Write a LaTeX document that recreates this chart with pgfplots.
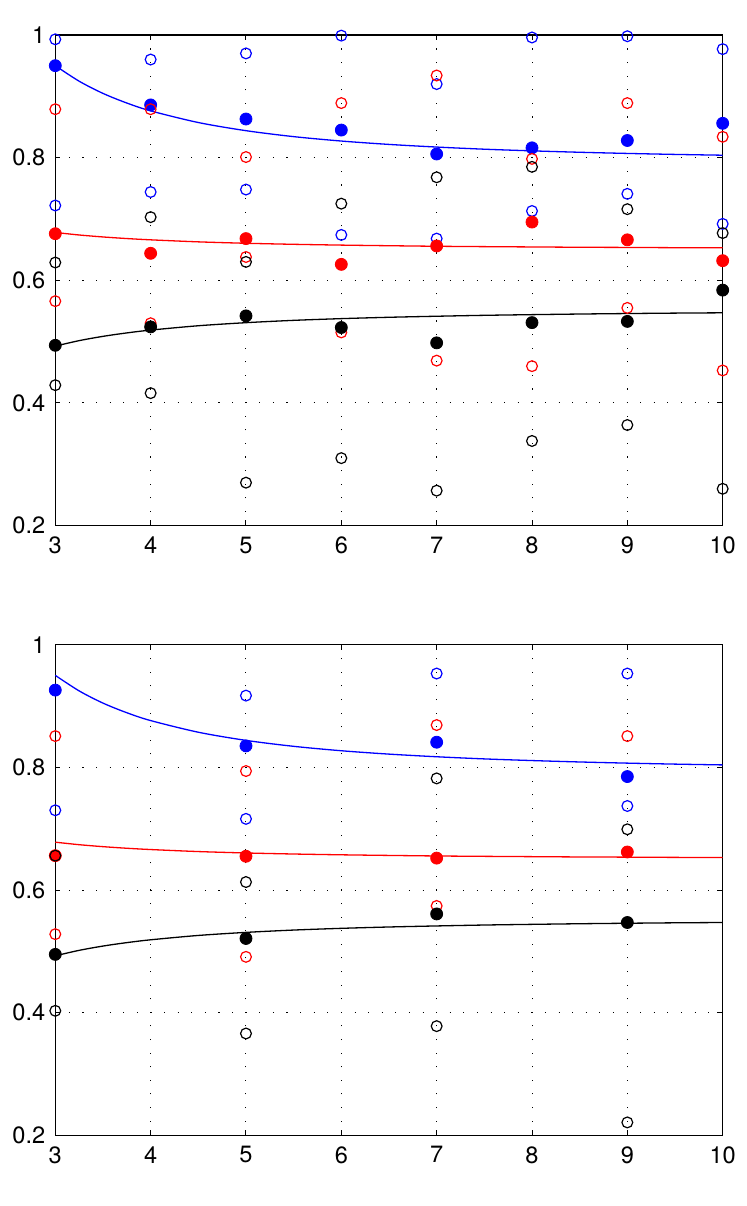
\documentclass[border=0pt]{standalone}
\usepackage{pgfplots}
\pgfplotsset{compat=1.18}
\usepackage{fontspec}
\setmainfont{TeX Gyre Heros}
\definecolor{mblue}{rgb}{0,0,1}
\definecolor{mred}{rgb}{1,0,0}
\pgfplotsset{
  mstyle/.style={
    scale only axis, width=333.7pt, height=245.3pt,
    xmin=3, xmax=10, ymin=0.2, ymax=1,
    xtick={3,4,5,6,7,8,9,10},
    ytick={0.2,0.4,0.6,0.8,1},
    yticklabels={0.2,0.4,0.6,0.8,1},
    grid=major,
    major grid style={black, line width=0.5pt, dash pattern=on 0.55pt off 6.25pt},
    axis line style={black, line width=0.55pt},
    tick style={black, line width=0.5pt},
    tick align=inside, major tick length=2.6pt,
    xtick pos=both, ytick pos=both,
    clip=false,
    /pgf/number format/assume math mode=true,
    tick label style={font=\fontsize{11.8}{13}\selectfont, black},
    xticklabel style={yshift=-2pt},
    yticklabel style={xshift=-1.5pt},
    anchor=south west,
  },
  opn/.style={only marks, mark=o, mark size=2.7pt, mark options={line width=0.6pt}},
  fil/.style={only marks, mark=*, mark size=3pt},
  crv/.style={smooth, no marks, line width=0.65pt},
}
\pgfplotstableread{
x y
3 0.9500
3.25 0.9247
3.5 0.9048
3.75 0.8891
4 0.8763
4.5 0.8573
5 0.8440
5.5 0.8343
6 0.8271
6.5 0.8216
7 0.8173
7.5 0.8138
8 0.8111
8.5 0.8088
9 0.8069
9.5 0.8053
10 0.8040
}\curveblue
\pgfplotstableread{
x y
3 0.6780
3.25 0.6739
3.5 0.6707
3.75 0.6681
4 0.6660
4.5 0.6627
5 0.6604
5.5 0.6587
6 0.6574
6.5 0.6564
7 0.6555
7.5 0.6549
8 0.6544
8.5 0.6539
9 0.6536
9.5 0.6532
10 0.6530
}\curvered
\pgfplotstableread{
x y
3 0.4927
3.25 0.5016
3.5 0.5086
3.75 0.5142
4 0.5188
4.5 0.5259
5 0.5309
5.5 0.5347
6 0.5375
6.5 0.5397
7 0.5414
7.5 0.5429
8 0.5440
8.5 0.5450
9 0.5458
9.5 0.5465
10 0.5470
}\curveblack
% ---- top panel data
\pgfplotstableread{
x y
3 0.993
3 0.722
4 0.960
4 0.744
5 0.970
5 0.748
6 0.999
6 0.674
7 0.920
7 0.668
8 0.996
8 0.713
9 0.998
9 0.741
10 0.977
10 0.692
}\topblueopen
\pgfplotstableread{
x y
3 0.950
4 0.886
5 0.863
6 0.845
7 0.806
8 0.816
9 0.828
10 0.856
}\topbluefill
\pgfplotstableread{
x y
3 0.879
3 0.566
4 0.879
4 0.530
5 0.801
5 0.638
6 0.889
6 0.515
7 0.934
7 0.469
8 0.798
8 0.460
9 0.889
9 0.555
10 0.834
10 0.453
}\topredopen
\pgfplotstableread{
x y
3 0.676
4 0.644
5 0.668
6 0.626
7 0.656
8 0.695
9 0.666
10 0.632
}\topredfill
\pgfplotstableread{
x y
3 0.629
3 0.429
4 0.703
4 0.416
5 0.630
5 0.270
6 0.725
6 0.310
7 0.768
7 0.257
8 0.785
8 0.338
9 0.716
9 0.364
10 0.677
10 0.260
}\topblackopen
\pgfplotstableread{
x y
3 0.494
4 0.524
5 0.542
6 0.523
7 0.498
8 0.531
9 0.533
10 0.584
}\topblackfill
% ---- bottom panel data
\pgfplotstableread{
x y
3 0.730
5 0.917
5 0.716
7 0.953
9 0.953
9 0.737
}\botblueopen
\pgfplotstableread{
x y
3 0.926
5 0.835
7 0.841
9 0.785
}\botbluefill
\pgfplotstableread{
x y
3 0.851
3 0.528
5 0.794
5 0.491
7 0.869
7 0.574
9 0.851
}\botredopen
\pgfplotstableread{
x y
3 0.656
5 0.655
7 0.652
9 0.662
}\botredfill
\pgfplotstableread{
x y
3 0.656
3 0.403
5 0.613
5 0.366
7 0.782
7 0.378
9 0.699
9 0.221
}\botblackopen
\pgfplotstableread{
x y
3 0.495
5 0.521
7 0.561
9 0.547
}\botblackfill
\begin{document}
\begin{tikzpicture}
\useasboundingbox (0,0) rectangle (373.5pt,603pt);
\begin{axis}[mstyle, at={(27.65pt,340.2pt)}]
\addplot[crv, mblue] table {\curveblue};
\addplot[crv, mred] table {\curvered};
\addplot[crv, black] table {\curveblack};
\addplot[opn, mblue] table {\topblueopen};
\addplot[fil, mblue] table {\topbluefill};
\addplot[opn, mred] table {\topredopen};
\addplot[fil, mred] table {\topredfill};
\addplot[opn, black] table {\topblackopen};
\addplot[fil, black] table {\topblackfill};
\end{axis}
\begin{axis}[mstyle, at={(27.65pt,35.35pt)}]
\addplot[crv, mblue] table {\curveblue};
\addplot[crv, mred] table {\curvered};
\addplot[crv, black] table {\curveblack};
\addplot[opn, mblue] table {\botblueopen};
\addplot[fil, mblue] table {\botbluefill};
\addplot[opn, mred] table {\botredopen};
\addplot[fil, mred] table {\botredfill};
\addplot[opn, black] table {\botblackopen};
\addplot[fil, black] table {\botblackfill};
\end{axis}
\end{tikzpicture}
\end{document}
